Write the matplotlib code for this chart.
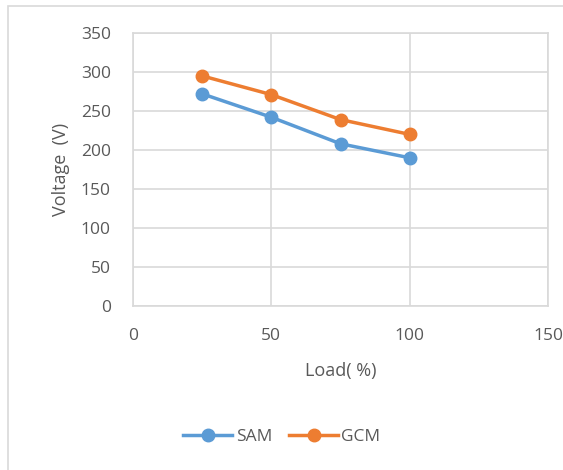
import matplotlib.pyplot as plt
from matplotlib.patches import Rectangle

# --- Data ---
load = [25, 50, 75, 100]
sam = [272, 242, 208, 190]
gcm = [295, 271, 239, 220]

W, H = 563, 470
fig = plt.figure(figsize=(W / 100, H / 100), dpi=100)
plt.rcParams['font.family'] = ['Open Sans', 'DejaVu Sans']
grey = '#595959'

# chart border (only top and left visible in the reference)
fig.add_artist(Rectangle((8 / W, -0.1), 1.2, 1 - 6 / H + 0.1, transform=fig.transFigure,
                         fill=False, edgecolor='#d9d9d9', lw=1.2))

ax = fig.add_axes([133 / W, (H - 306) / H, (548 - 133) / W, (306 - 33) / H])
ax.plot(load, sam, color='#5b9bd5', lw=2.5, marker='o', ms=9, label='SAM')
ax.plot(load, gcm, color='#ed7d31', lw=2.5, marker='o', ms=9, label='GCM')

ax.set_xlim(0, 150)
ax.set_ylim(0, 350)
ax.set_xticks([0, 50, 100, 150])
ax.set_yticks(range(0, 351, 50))
ax.grid(True, color='#d9d9d9', lw=1.2)
ax.set_axisbelow(True)
for s in ax.spines.values():
    s.set_color('#d9d9d9')
    s.set_linewidth(1.2)
ax.tick_params(length=0, labelsize=12.5, colors=grey)
ax.tick_params(axis='x', pad=16)
ax.tick_params(axis='y', pad=16)

ax.set_xlabel('Load( %)', fontsize=13, color=grey, labelpad=13)
ax.set_ylabel('Voltage  (V)', fontsize=13, color=grey, labelpad=8)

fig.legend(loc='center', bbox_to_anchor=(282 / W, 1 - 437 / H), ncol=2, frameon=False,
           fontsize=12.5, labelcolor=grey, handlelength=2.8, columnspacing=1.0, handletextpad=0.2)

fig.savefig('out.png', dpi=100)
